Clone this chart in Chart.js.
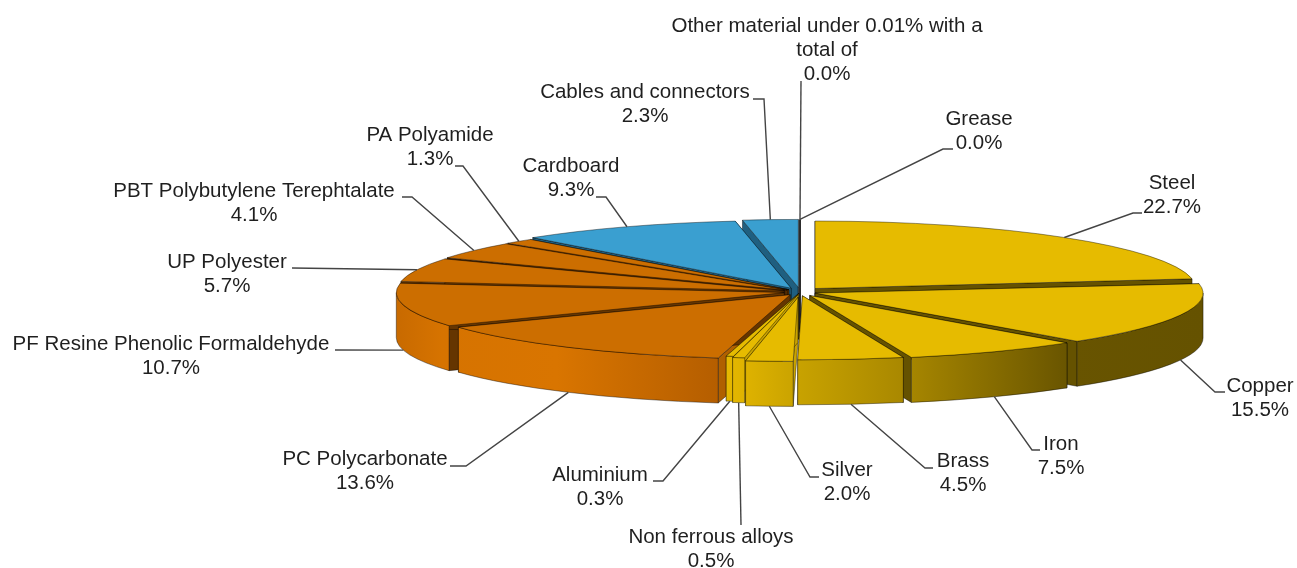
<!DOCTYPE html>
<html>
<head>
<meta charset="utf-8">
<title>Material composition</title>
<script src="https://cdn.jsdelivr.net/npm/chart.js@4"></script>
<style>
  html, body { margin: 0; padding: 0; background: #fff; }
  canvas { display: block; }
</style>
</head>
<body>
<canvas id="pieChart" width="1297" height="568"></canvas>
<script>
// Data, clockwise from 12 o'clock
const categories = ['Steel', 'Copper', 'Iron', 'Brass', 'Silver', 'Non ferrous alloys', 'Aluminium',
    'PC Polycarbonate', 'PF Resine Phenolic Formaldehyde', 'UP Polyester', 'PBT Polybutylene Terephtalate',
    'PA Polyamide', 'Cardboard', 'Cables and connectors', 'Other material under 0.01% with a\ntotal of', 'Grease'];
const percentages = [22.7, 15.5, 7.5, 4.5, 2.0, 0.5, 0.3, 13.6, 10.7, 5.7, 4.1, 1.3, 9.3, 2.3, 0.0, 0.0];

// Material family of each slice: 0 metal, 1 plastic, 2 other
const families = [0, 0, 0, 0, 0, 0, 0, 1, 1, 1, 1, 1, 2, 2, 2, 2];
const topColors = ['#e6bb00', '#cc6e00', '#3a9fd0'];
const faceColors = ['#655200', '#653500', '#1f5f80'];
const midFaceColors = ['#c9a300', '#b06000', '#2f7ea6'];

// Pull-out of each slice, in pixels along the long axis of the pie
const explode = [23, 16, 20, 19, 27, 12, 6, 17, 16, 16, 16, 16, 21, 23, 23, 23];
// Half width of each slice on screen, the original has some perspective
const halfWidths = [381, 388, 381, 378, 380, 388, 388, 384, 388, 388, 388, 388, 388, 388, 388, 388];

// Label centre x, first line centre y, then the leader's elbow and end
const labelPlaces = [
    [1172, 182, [1133, 213], [1142, 213]],
    [1260, 385, [1215, 392], [1225, 392]],
    [1061, 443, [1032, 450], [1040, 450]],
    [963, 460, [925, 468], [933, 468]],
    [847, 469, [810, 477], [819, 477]],
    [711, 536, [741, 525], [741, 525]],
    [600, 474, [663, 481], [653, 481]],
    [365, 458, [466, 466], [450, 466]],
    [171, 343, [335, 350], [335, 350]],
    [227, 261, [292, 268], [292, 268]],
    [254, 190, [412, 197], [402, 197]],
    [430, 134, [463, 166], [455, 166]],
    [571, 165, [606, 197], [596, 197]],
    [645, 91, [764, 99], [753, 99]],
    [827, 25, [801, 81], [801, 81]],
    [979, 118, [943, 149], [953, 149]]
];

const pie = { cx: 800, cy: 292, ry: 66, depth: 45, pullY: 0.2, flatten: 0.03 };
const lineHeight = 24;
const edgeColor = 'rgba(0, 0, 0, 0.5)';

// Where a slice ends up on screen once it is flattened and pulled out
function sliceGeometry(arc, index) {
    const mid = (arc.startAngle + arc.endAngle) / 2;
    const pull = explode[index];
    return {
        x: pie.cx + Math.cos(mid) * pull,
        y: pie.cy + Math.sin(mid) * pull * pie.pullY,
        rx: halfWidths[index],
        ry: pie.ry * (1 - pie.flatten * Math.sin(mid)),
        start: arc.startAngle,
        end: arc.endAngle,
        mid: mid
    };
}

function wallGradient(ctx, family) {
    if (family === 0) {
        const g = ctx.createLinearGradient(727, 0, 1203, 0);
        g.addColorStop(0, '#e6b800');
        g.addColorStop(0.15, '#c8a200');
        g.addColorStop(0.37, '#a98800');
        g.addColorStop(0.72, '#685400');
        g.addColorStop(1, '#655200');
        return g;
    }
    if (family === 1) {
        const g = ctx.createLinearGradient(396, 0, 718, 0);
        g.addColorStop(0, '#c86a00');
        g.addColorStop(0.14, '#d67300');
        g.addColorStop(0.5, '#d97500');
        g.addColorStop(1, '#b55e00');
        return g;
    }
    return '#1f5f80';
}

// Radial cut face between the centre of the slice and its rim
function drawFace(ctx, geo, angle, family) {
    const ox = geo.x + Math.cos(angle) * geo.rx;
    const oy = geo.y + Math.sin(angle) * geo.ry;
    const nearFront = Math.abs(angle - Math.PI / 2) < 0.23;
    ctx.beginPath();
    ctx.moveTo(geo.x, geo.y);
    ctx.lineTo(ox, oy);
    ctx.lineTo(ox, oy + pie.depth);
    ctx.lineTo(geo.x, geo.y + pie.depth);
    ctx.closePath();
    ctx.fillStyle = nearFront ? midFaceColors[family] : faceColors[family];
    ctx.fill();
    ctx.strokeStyle = edgeColor;
    ctx.lineWidth = 0.8;
    ctx.stroke();
}

function drawRim(ctx, geo, family) {
    const a0 = Math.max(geo.start, 0);
    const a1 = Math.min(geo.end, Math.PI);
    if (a1 <= a0) return;
    ctx.beginPath();
    ctx.ellipse(geo.x, geo.y, geo.rx, geo.ry, 0, a0, a1);
    ctx.ellipse(geo.x, geo.y + pie.depth, geo.rx, geo.ry, 0, a1, a0, true);
    ctx.closePath();
    ctx.fillStyle = wallGradient(ctx, family);
    ctx.fill();
    ctx.strokeStyle = edgeColor;
    ctx.lineWidth = 0.8;
    ctx.stroke();
}

function drawTopEdge(ctx, geo) {
    ctx.beginPath();
    ctx.moveTo(geo.x, geo.y);
    ctx.ellipse(geo.x, geo.y, geo.rx, geo.ry, 0, geo.start, geo.end);
    ctx.closePath();
    ctx.strokeStyle = edgeColor;
    ctx.lineWidth = 0.8;
    ctx.stroke();
}

// Flatten the library's arcs and give them walls
const pie3d = {
    id: 'pie3d',
    beforeDatasetDraw(chart, args) {
        const ctx = chart.ctx;
        const arcs = args.meta.data;
        const geos = arcs.map((arc, i) => sliceGeometry(arc, i));
        const order = arcs.map((arc, i) => i).sort((a, b) => Math.sin(geos[a].mid) - Math.sin(geos[b].mid));

        order.forEach(i => {
            drawFace(ctx, geos[i], geos[i].start, families[i]);
            drawFace(ctx, geos[i], geos[i].end, families[i]);
            drawRim(ctx, geos[i], families[i]);
        });

        arcs.forEach((arc, i) => {
            const scale = arc.outerRadius;
            ctx.save();
            ctx.translate(geos[i].x, geos[i].y);
            ctx.scale(geos[i].rx / scale, geos[i].ry / scale);
            ctx.translate(-arc.x, -arc.y);
            arc.draw(ctx);
            ctx.restore();
            if (percentages[i] > 0) drawTopEdge(ctx, geos[i]);
        });
        return false;
    },
    afterDraw(chart) {
        const ctx = chart.ctx;
        const arcs = chart.getDatasetMeta(0).data;
        arcs.forEach((arc, i) => {
            const geo = sliceGeometry(arc, i);
            const place = labelPlaces[i];
            const sy = geo.y + Math.sin(geo.mid) * geo.ry + (Math.sin(geo.mid) > 0 ? pie.depth : 0);
            ctx.beginPath();
            ctx.moveTo(geo.x + Math.cos(geo.mid) * geo.rx, sy);
            ctx.lineTo(place[2][0], place[2][1]);
            ctx.lineTo(place[3][0], place[3][1]);
            ctx.strokeStyle = '#444';
            ctx.lineWidth = 1.4;
            ctx.stroke();

            ctx.font = '20.5px "Liberation Sans", Arial, sans-serif';
            ctx.fillStyle = '#1f1f1f';
            ctx.textAlign = 'center';
            ctx.textBaseline = 'middle';
            const lines = categories[i].split('\n').concat(percentages[i].toFixed(1) + '%');
            lines.forEach((line, n) => ctx.fillText(line, place[0], place[1] + 1 + n * lineHeight));
        });
    }
};

const pieChart = new Chart(document.getElementById('pieChart').getContext('2d'), {
    type: 'pie',
    data: {
        labels: categories,
        datasets: [{
            data: percentages,
            backgroundColor: families.map(f => topColors[f]),
            borderWidth: 0
        }]
    },
    options: {
        responsive: false,
        animation: false,
        plugins: {
            legend: { display: false },
            tooltip: { enabled: false }
        }
    },
    plugins: [pie3d]
});
</script>
</body>
</html>
